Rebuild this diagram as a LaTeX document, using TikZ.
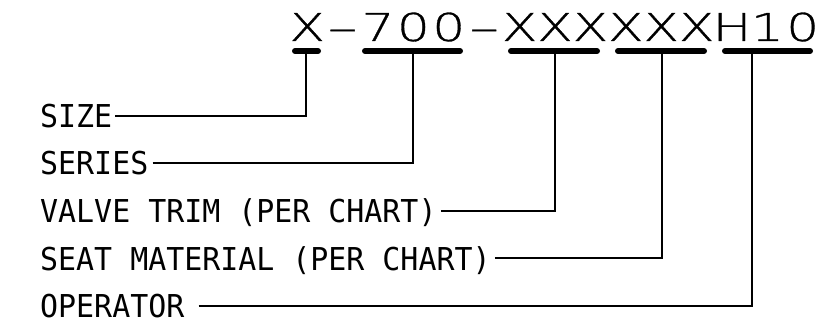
\documentclass[tikz,border=0pt]{standalone}
\usepackage{fontspec}
\newfontfamily\lblfont[FakeStretch=0.95]{DejaVu Sans Mono}
\newfontfamily\codefont[FakeStretch=1.35,FakeBold=0.8]{DejaVu Sans ExtraLight}
\newlength\cpitch \setlength\cpitch{35.4pt}
\newcommand\cc[1]{\makebox[\cpitch][c]{#1}}
\newcommand\cdash{\makebox[\cpitch][c]{\scalebox{1.75}[1]{-}}}
\begin{document}
\begin{tikzpicture}[x=1pt,y=-1pt,
  lbl/.style={font=\lblfont\fontsize{31.5}{32}\selectfont, inner sep=0pt,
              text height=23pt, text depth=0pt, anchor=west},
  code/.style={font=\codefont\fontsize{38.4}{40}\selectfont, inner sep=0pt, anchor=base west},
  bar/.style={line width=6pt, line cap=round},
  lead/.style={line width=2pt}]
\useasboundingbox[fill=white] (0,0) rectangle (834,328);
% code string
\node[code] (code) at (289.3,41) {\cc{X}\cdash\cc{7}\cc{0}\cc{0}\cdash\cc{X}\cc{X}\cc{X}\cc{X}\cc{X}\cc{X}\cc{H}\cc{1}\cc{0}};
% underline bars
\draw[bar] (295,51) -- (318,51);
\draw[bar] (365,51) -- (460,51);
\draw[bar] (511,51) -- (597,51);
\draw[bar] (618,51) -- (704,51);
\draw[bar] (725,51) -- (810,51);
% tap points
\coordinate (b1) at (306,51);
\coordinate (b2) at (413,51);
\coordinate (b3) at (555,51);
\coordinate (b4) at (662,51);
\coordinate (b5) at (752,51);
% labels
\node[lbl] (size) at (40,116) {SIZE};
\node[lbl] (series) at (40,163.5) {SERIES};
\node[lbl] (trim) at (40,211) {VALVE TRIM (PER CHART)};
\node[lbl] (seat) at (40,258.5) {SEAT MATERIAL (PER CHART)};
\node[lbl] (oper) at (40,306) {OPERATOR};
% leaders
\draw[lead] ([xshift=3pt]size.east) -| (b1);
\draw[lead] ([xshift=4pt]series.east) -| (b2);
\draw[lead] ([xshift=4pt]trim.east) -| (b3);
\draw[lead] ([xshift=4pt]seat.east) -| (b4);
\draw[lead] ([xshift=14pt]oper.east) -| (b5);
\end{tikzpicture}
\end{document}
